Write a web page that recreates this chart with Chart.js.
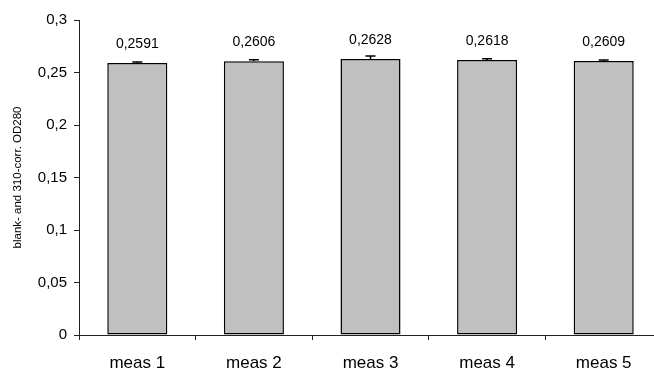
<!DOCTYPE html>
<html>
<head>
<meta charset="utf-8">
<script src="https://cdn.jsdelivr.net/npm/chart.js@4/dist/chart.umd.min.js"></script>
<style>
  html, body { margin: 0; padding: 0; background: #fff; overflow: hidden; }
  #wrap { position: relative; width: 662px; height: 369px; }
</style>
</head>
<body>
<div id="wrap"><canvas id="chart"></canvas></div>
<script>
const labels = ['meas 1', 'meas 2', 'meas 3', 'meas 4', 'meas 5']
const values = [0.2591, 0.2606, 0.2628, 0.2618, 0.2609]
const errors = [0.001, 0.0015, 0.003, 0.0012, 0.001]

const fmt = v => v.toString().replace('.', ',')

// error bars + value labels on top of each bar
const barExtras = {
  id: 'barExtras',
  afterDatasetsDraw(chart) {
    const ctx = chart.ctx
    const y = chart.scales.y
    const meta = chart.getDatasetMeta(0)
    ctx.save()
    meta.data.forEach((bar, i) => {
      const top = y.getPixelForValue(values[i] + errors[i])
      ctx.strokeStyle = '#000'
      ctx.lineWidth = 1.5
      ctx.beginPath()
      ctx.moveTo(bar.x, bar.y)
      ctx.lineTo(bar.x, top)
      ctx.moveTo(bar.x - 5, top)
      ctx.lineTo(bar.x + 5, top)
      ctx.stroke()

      ctx.fillStyle = '#000'
      ctx.font = '14px "Liberation Sans", Arial, sans-serif'
      ctx.textAlign = 'center'
      ctx.textBaseline = 'alphabetic'
      ctx.fillText(fmt(values[i]), bar.x, bar.y - 15)
    })
    ctx.restore()
  }
}

new Chart(document.getElementById('chart'), {
  type: 'bar',
  data: {
    labels: labels,
    datasets: [{
      data: values,
      backgroundColor: '#c0c0c0',
      borderColor: '#000',
      borderWidth: 1.5,
      borderSkipped: false,
      barPercentage: 0.515,
      categoryPercentage: 1
    }]
  },
  options: {
    responsive: true,
    maintainAspectRatio: false,
    animation: false,
    layout: { padding: { top: 20, left: 0, right: 0, bottom: 0 } },
    plugins: {
      legend: { display: false },
      tooltip: { enabled: false }
    },
    scales: {
      x: {
        offset: true,
        grid: {
          offset: true,
          drawOnChartArea: false,
          tickLength: 5,
          color: '#222'
        },
        border: { color: '#222', width: 1 },
        ticks: {
          color: '#000',
          padding: 13,
          font: { family: '"Liberation Sans", Arial, sans-serif', size: 17 }
        },
        afterFit(scale) { scale.height = 34 }
      },
      y: {
        min: 0,
        max: 0.3,
        ticks: {
          stepSize: 0.05,
          color: '#000',
          padding: 7,
          font: { family: '"Liberation Sans", Arial, sans-serif', size: 15 },
          callback: v => fmt(Math.round(v * 100) / 100)
        },
        grid: {
          drawOnChartArea: false,
          tickLength: 5,
          color: '#222'
        },
        border: { color: '#222', width: 1 },
        title: {
          display: true,
          text: 'blank- and 310-corr. OD280',
          color: '#000',
          padding: { top: 11, bottom: 0 },
          font: { family: '"Liberation Sans", Arial, sans-serif', size: 11.5 }
        },
        afterFit(scale) { scale.width = 79 }
      }
    }
  },
  plugins: [barExtras]
})
</script>
</body>
</html>
